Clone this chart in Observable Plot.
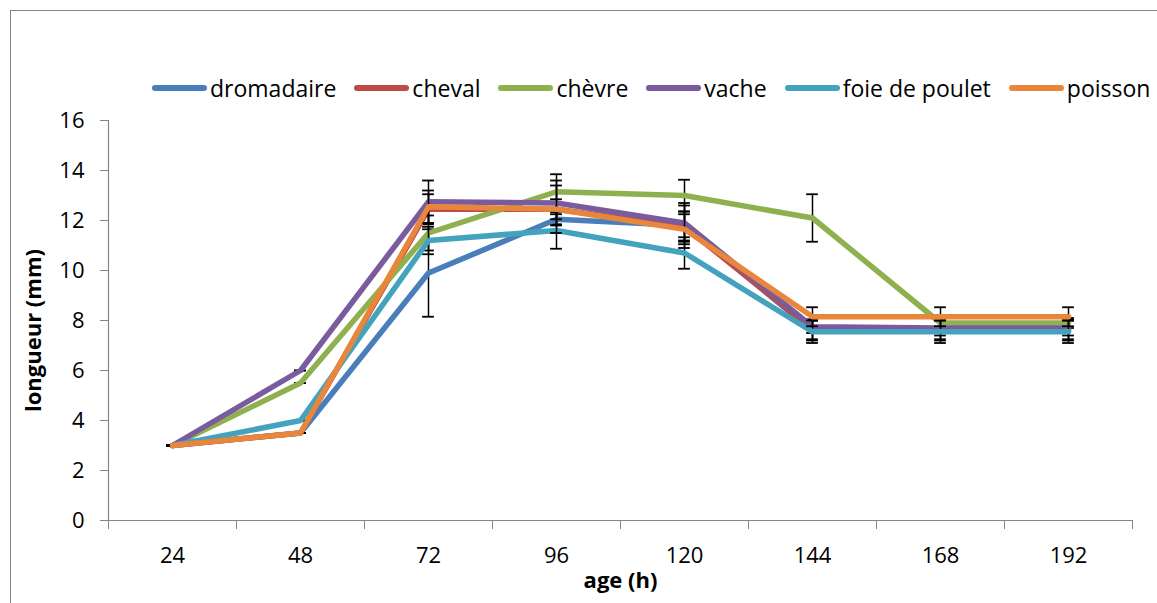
<!DOCTYPE html>
<html>
<head>
<meta charset="utf-8">
<script src="https://cdn.jsdelivr.net/npm/d3@7"></script>
<script src="https://cdn.jsdelivr.net/npm/@observablehq/plot@0.6"></script>
<style>
  html, body { margin: 0; padding: 0; background: #fff; overflow: hidden; }
  #wrap { position: relative; width: 1157px; height: 603px; font-family: "Open Sans", sans-serif; }
  #frame { position: absolute; left: 10px; top: 10px; width: 1170px; height: 620px; border: 1px solid #868686; box-sizing: border-box; }
  #chart { position: absolute; left: 0; top: 0; }
  #legend { position: absolute; left: 152px; top: 73px; height: 30px; display: flex; align-items: center; font-size: 23px; line-height: 30px; color: #000; white-space: nowrap; }
  .item { display: flex; align-items: center; margin-right: 18px; }
  .sw { width: 55px; height: 6px; border-radius: 3px; margin-right: 3px; }
  g[aria-label="y-axis tick"], g[aria-label="x-axis tick"] { stroke: #868686; }
</style>
</head>
<body>
<div id="wrap">
  <div id="frame"></div>
  <div id="chart"></div>
  <div id="legend"></div>
</div>
<script>
// ---- data ----
const ages = [24, 48, 72, 96, 120, 144, 168, 192];
const seriesNames = ["dromadaire", "cheval", "chèvre", "vache", "foie de poulet", "poisson"];
const colors = ["#4a7ebb", "#be4b48", "#8fb04e", "#7a5c9e", "#43a2bd", "#e8863c"];

const dromadaire = [3.0, 3.5, 9.9, 12.05, 11.8, 7.6, 7.6, 7.6];
const cheval     = [3.0, 3.5, 12.45, 12.45, 11.75, 7.65, 7.65, 7.65];
const chevre     = [3.0, 5.5, 11.5, 13.15, 13.0, 12.1, 7.9, 7.9];
const vache      = [3.0, 6.0, 12.75, 12.7, 11.9, 7.75, 7.7, 7.7];
const foie       = [3.0, 4.0, 11.2, 11.6, 10.7, 7.55, 7.55, 7.55];
const poisson    = [3.0, 3.5, 12.55, 12.45, 11.65, 8.15, 8.15, 8.15];

// standard deviations (error bars)
const errDromadaire = [0.0, 0.0, 1.75, 0.2, 0.9, 0.4, 0.4, 0.4];
const errCheval     = [0.0, 0.0, 0.6, 0.4, 0.6, 0.4, 0.4, 0.4];
const errChevre     = [0.0, 0.0, 0.7, 0.7, 0.63, 0.95, 0.2, 0.2];
const errVache      = [0.0, 0.0, 0.85, 0.9, 0.7, 0.25, 0.3, 0.3];
const errFoie       = [0.0, 0.0, 0.55, 0.73, 0.63, 0.45, 0.45, 0.45];
const errPoisson    = [0.0, 0.0, 0.65, 0.95, 0.6, 0.38, 0.38, 0.38];

const yTicks = [0, 2, 4, 6, 8, 10, 12, 14, 16];
const xLabel = "age (h)";
const yLabel = "longueur (mm)";

// ---- build tables ----
const values = [dromadaire, cheval, chevre, vache, foie, poisson];
const errors = [errDromadaire, errCheval, errChevre, errVache, errFoie, errPoisson];
const step = ages[1] - ages[0];
const bounds = ages.map(a => a - step / 2).concat([ages[ages.length - 1] + step / 2]);
const capHalf = 1.1;

const marks = [
  Plot.ruleY([0], {stroke: "#868686", strokeWidth: 1.2}),
  Plot.ruleX([bounds[0]], {stroke: "#868686", strokeWidth: 1.2}),
  Plot.axisY({ticks: yTicks, tickSize: 8, tickPadding: 16, fontSize: 22, label: null}),
  Plot.axisX({ticks: bounds, tickSize: 9, tickFormat: () => "", label: null}),
  Plot.axisX({ticks: ages, tickSize: 0, tickPadding: 27, fontSize: 22, tickFormat: d => String(d), label: null})
];

seriesNames.forEach((name, i) => {
  const rows = ages.map((a, j) => ({age: a, v: values[i][j], lo: values[i][j] - errors[i][j], hi: values[i][j] + errors[i][j], serie: name}));
  marks.push(Plot.ruleX(rows, {x: "age", y1: "lo", y2: "hi", stroke: "#000", strokeWidth: 1.5}));
  marks.push(Plot.ruleY(rows, {y: "hi", x1: d => d.age - capHalf, x2: d => d.age + capHalf, stroke: "#000", strokeWidth: 1.8}));
  marks.push(Plot.ruleY(rows, {y: "lo", x1: d => d.age - capHalf, x2: d => d.age + capHalf, stroke: "#000", strokeWidth: 1.8}));
  marks.push(Plot.line(rows, {x: "age", y: "v", stroke: colors[i], strokeWidth: 5.5, strokeLinejoin: "round", strokeLinecap: "round"}));
});

marks.push(Plot.text([xLabel], {frameAnchor: "bottom", dy: 67, fontSize: 22, fontWeight: "bold", textAnchor: "middle"}));
marks.push(Plot.text([yLabel], {frameAnchor: "left", dx: -75, dy: 10, rotate: -90, fontSize: 22, fontWeight: "bold", textAnchor: "middle"}));

const chart = Plot.plot({
  width: 1157,
  height: 603,
  marginLeft: 108,
  marginRight: 25,
  marginTop: 120,
  marginBottom: 83,
  style: {fontFamily: "Open Sans, sans-serif", fontSize: "22px", background: "transparent", color: "#000"},
  x: {type: "linear", domain: [bounds[0], bounds[bounds.length - 1]], axis: null},
  y: {domain: [0, 16], axis: null},
  marks
});
document.getElementById("chart").appendChild(chart);

// legend
const legend = document.getElementById("legend");
seriesNames.forEach((name, i) => {
  const it = document.createElement("div");
  it.className = "item";
  const sw = document.createElement("div");
  sw.className = "sw";
  sw.style.background = colors[i];
  const tx = document.createElement("span");
  tx.textContent = name;
  it.appendChild(sw); it.appendChild(tx);
  legend.appendChild(it);
});
</script>
</body>
</html>
